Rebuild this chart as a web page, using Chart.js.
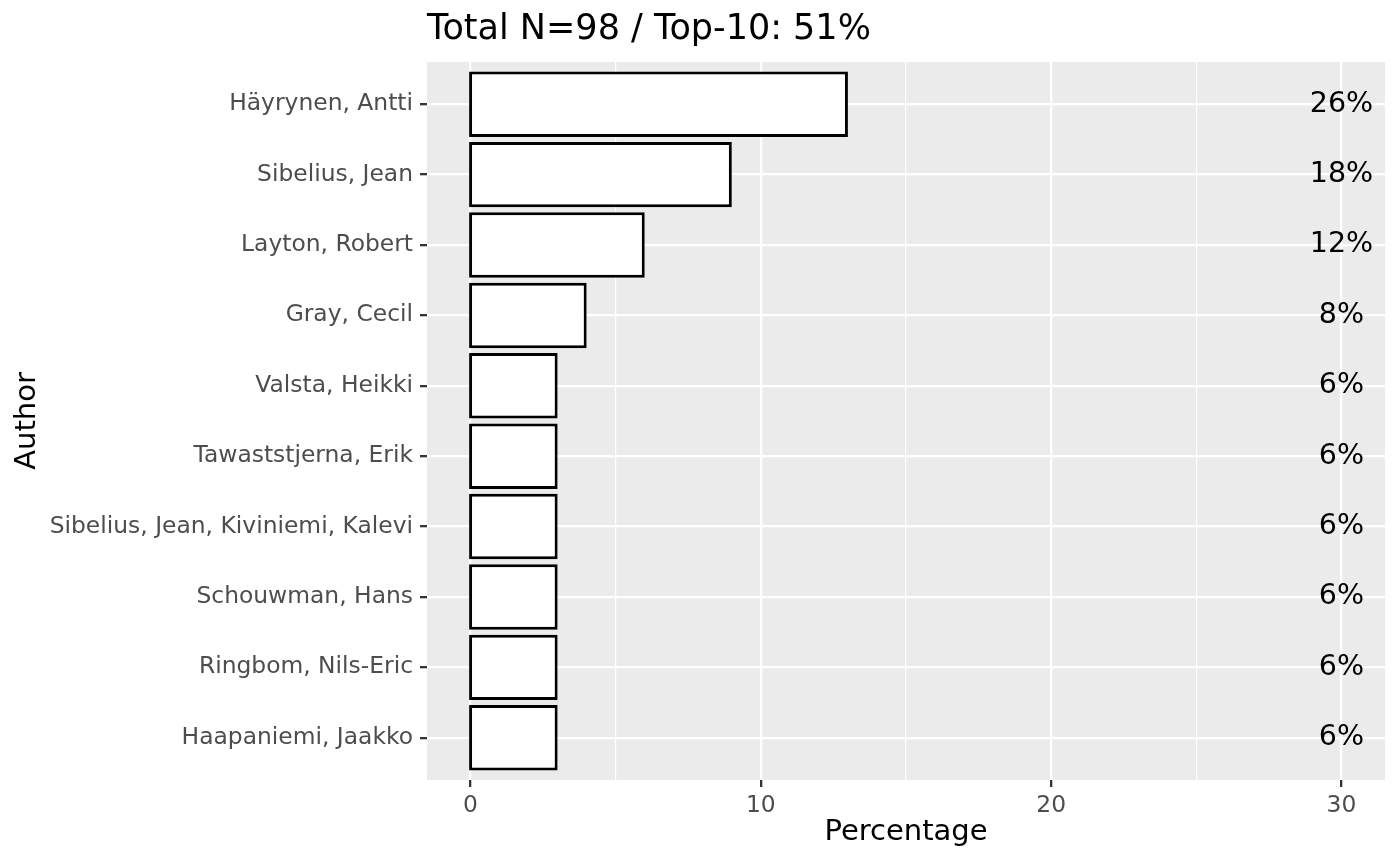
<!DOCTYPE html>
<html>
<head>
<meta charset="utf-8">
<script src="https://cdn.jsdelivr.net/npm/chart.js@4/dist/chart.umd.min.js"></script>
<style>
  html, body { margin: 0; padding: 0; background: #fff; }
  canvas { display: block; }
</style>
</head>
<body>
<canvas id="authorChart" width="1400" height="865"></canvas>
<script>
// top-10 authors, top row first
const authors = [
  'Häyrynen, Antti',
  'Sibelius, Jean',
  'Layton, Robert',
  'Gray, Cecil',
  'Valsta, Heikki',
  'Tawaststjerna, Erik',
  'Sibelius, Jean, Kiviniemi, Kalevi',
  'Schouwman, Hans',
  'Ringbom, Nils-Eric',
  'Haapaniemi, Jaakko'
];
const counts = [13, 9, 6, 4, 3, 3, 3, 3, 3, 3];
const pctLabels = ['26%', '18%', '12%', '8%', '6%', '6%', '6%', '6%', '6%', '6%'];
const xTicks = [0, 5, 10, 15, 20, 25, 30];
const labelPos = 30; // x value where the percent text sits
const chartTitle = 'Total N=98 / Top-10: 51%';

const FONT = "'DejaVu Sans', sans-serif";

// grey panel behind the grid, like ggplot's theme_gray
const panelBg = {
  id: 'panelBg',
  beforeDraw(chart) {
    const { ctx, chartArea: a } = chart;
    ctx.save();
    ctx.fillStyle = '#EBEBEB';
    ctx.fillRect(a.left, a.top, a.right - a.left, a.bottom - a.top);
    ctx.restore();
  }
};

// title + percent text on the right
const extraText = {
  id: 'extraText',
  afterDatasetsDraw(chart) {
    const { ctx, chartArea: a } = chart;
    const xs = chart.scales.x, ys = chart.scales.y;
    ctx.save();
    ctx.fillStyle = '#000';
    ctx.font = '28.5px ' + FONT;
    ctx.textAlign = 'center';
    ctx.textBaseline = 'middle';
    pctLabels.forEach((t, i) => {
      ctx.fillText(t, xs.getPixelForValue(labelPos), ys.getPixelForValue(i));
    });
    ctx.font = '35px ' + FONT;
    ctx.textAlign = 'left';
    ctx.fillText(chartTitle, a.left, 30);
    ctx.restore();
  }
};

new Chart(document.getElementById('authorChart'), {
  type: 'bar',
  data: {
    datasets: [{
      data: counts.map((v, i) => ({ x: v, y: i })),
      base: -0.05, // ggplot strokes the outline on the edge, chart.js inside
      backgroundColor: '#FFFFFF',
      borderColor: '#000000',
      borderWidth: 3,
      borderSkipped: false,
      categoryPercentage: 1,
      barPercentage: 0.93
    }]
  },
  options: {
    indexAxis: 'y',
    responsive: false,
    animation: false,
    layout: { padding: { top: 62, right: 15, left: 0, bottom: 0 } },
    plugins: {
      legend: { display: false },
      tooltip: { enabled: false }
    },
    scales: {
      x: {
        type: 'linear',
        min: -1.5,
        max: 31.5,
        afterBuildTicks(axis) { axis.ticks = xTicks.map(v => ({ value: v })); },
        afterFit(axis) { axis.height = 85; },
        border: { display: false },
        grid: {
          color: '#FFFFFF',
          lineWidth: c => (c.tick && c.tick.value % 10 === 0 ? 2.3 : 1.2),
          tickColor: c => (c.tick && c.tick.value % 10 === 0 ? '#333333' : 'rgba(0,0,0,0)'),
          tickWidth: 2.3,
          tickLength: 7
        },
        ticks: {
          autoSkip: false,
          maxRotation: 0,
          padding: 5,
          color: '#4D4D4D',
          font: { family: FONT, size: 23.4 },
          callback: v => (v % 10 === 0 ? v : '')
        },
        title: {
          display: true,
          text: 'Percentage',
          color: '#000',
          font: { family: FONT, size: 29 },
          padding: { top: 0, bottom: 15 }
        }
      },
      y: {
        type: 'linear',
        min: -0.6,
        max: 9.6,
        reverse: true,
        offset: false,
        afterBuildTicks(axis) { axis.ticks = authors.map((a, i) => ({ value: i })); },
        afterFit(axis) { axis.width = 427; },
        border: { display: false },
        grid: {
          offset: false,
          color: '#FFFFFF',
          lineWidth: 2.3,
          tickColor: '#333333',
          tickWidth: 2.3,
          tickLength: 7
        },
        ticks: {
          autoSkip: false,
          padding: 7,
          color: '#4D4D4D',
          font: { family: FONT, size: 23.4 },
          callback: v => authors[v]
        },
        title: {
          display: true,
          text: 'Author',
          color: '#000',
          font: { family: FONT, size: 29 },
          padding: { top: 10, bottom: 0 }
        }
      }
    }
  },
  plugins: [panelBg, extraText]
});
</script>
</body>
</html>
